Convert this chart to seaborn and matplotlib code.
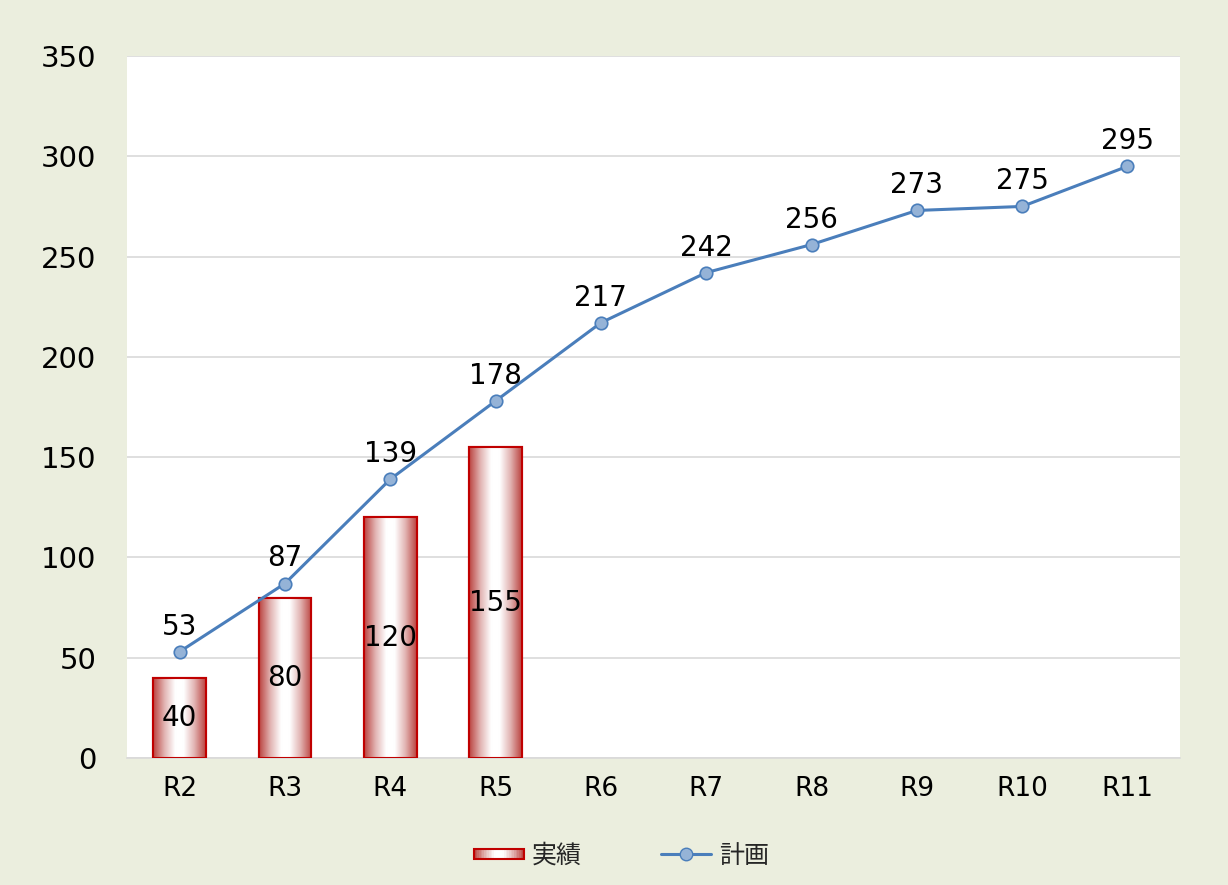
import numpy as np
import pandas as pd
import matplotlib
matplotlib.use("Agg")
import matplotlib.pyplot as plt
import seaborn as sns
from matplotlib.colors import LinearSegmentedColormap
from matplotlib.patches import Rectangle
from matplotlib.lines import Line2D
from matplotlib.legend_handler import HandlerBase

# データ
years = ["R2", "R3", "R4", "R5", "R6", "R7", "R8", "R9", "R10", "R11"]
actual = [40, 80, 120, 155, np.nan, np.nan, np.nan, np.nan, np.nan, np.nan]
plan = [53, 87, 139, 178, 217, 242, 256, 273, 275, 295]

bg = "#EBEEDE"
line_col = "#4A7EBB"
marker_col = "#95B3D7"
bar_edge = "#C00000"
grad = LinearSegmentedColormap.from_list(
    "g", [(0, "#BA4340"), (0.22, "#E2B5B4"), (0.42, "#FFFFFF"),
          (0.58, "#FFFFFF"), (0.78, "#E2B5B4"), (1, "#BA4340")])

sns.set_theme(style="white")
plt.rcParams['font.family'] = ['DejaVu Sans', 'Noto Sans CJK JP']

fig = plt.figure(figsize=(12.28, 8.85), dpi=100, facecolor=bg)
ax = fig.add_axes([0.1034, 0.1435, 0.8576, 0.7932])
ax.set_facecolor("white")

df = pd.DataFrame({"year": years, "actual": actual})
sns.barplot(data=df, x="year", y="actual", ax=ax, width=0.5,
            color="white", edgecolor=bar_edge, linewidth=1.5, zorder=2)

# 横方向グラデーション
g = np.linspace(0, 1, 256).reshape(1, -1)
for p, v in zip(ax.patches, actual):
    if np.isnan(v):
        continue
    x0, w, h = p.get_x(), p.get_width(), p.get_height()
    im = ax.imshow(g, cmap=grad, aspect="auto", extent=[x0, x0 + w, 0, h],
                   zorder=2.5, interpolation="bicubic")
    im.set_clip_path(p)
    ax.add_patch(Rectangle((x0, 0), w, h, fill=False, edgecolor=bar_edge,
                           linewidth=1.5, zorder=3))
    ax.text(x0 + w / 2, h / 2, f"{int(v)}", ha="center", va="center",
            fontsize=20, color="black", zorder=5)

xs = np.arange(len(years))
sns.lineplot(x=xs, y=plan, ax=ax, color=line_col, linewidth=2.2, marker="o",
             markersize=9, markerfacecolor=marker_col, markeredgecolor=line_col,
             markeredgewidth=1.2, zorder=4)
for x, v in zip(xs, plan):
    ax.text(x, v + 5.5, str(v), ha="center", va="bottom", fontsize=20,
            color="black", zorder=5)

ax.set_xlim(-0.5, len(years) - 0.5)
ax.set_ylim(0, 350)
ax.set_yticks(range(0, 351, 50))
ax.set_xticks(xs)
ax.set_xticklabels(years)
ax.tick_params(axis="both", length=0, colors="black")
ax.tick_params(axis="y", labelsize=21, pad=22)
ax.tick_params(axis="x", labelsize=19, pad=13)
ax.set_xlabel("")
ax.set_ylabel("")
ax.grid(axis="y", color="#D9D9D9", linewidth=1.2, zorder=0)
ax.set_axisbelow(True)
for s in ["top", "right", "left"]:
    ax.spines[s].set_visible(False)
ax.spines["bottom"].set_color("#D9D9D9")
ax.spines["bottom"].set_linewidth(1.2)


class GradHandler(HandlerBase):
    def create_artists(self, legend, orig, xd, yd, w, h, fs, trans):
        arts = []
        n = 30
        hh = h * 0.6
        y0 = yd + (h - hh) / 2
        for i in range(n):
            c = grad((i + 0.5) / n)
            arts.append(Rectangle((xd + w * i / n, y0), w / n + 0.3, hh,
                                  facecolor=c, edgecolor="none", transform=trans))
        arts.append(Rectangle((xd, y0), w, hh, fill=False, edgecolor=bar_edge,
                              linewidth=1.5, transform=trans))
        return arts


bar_handle = Rectangle((0, 0), 1, 1)
line_handle = Line2D([], [], color=line_col, linewidth=2.2, marker="o",
                     markersize=9, markerfacecolor=marker_col,
                     markeredgecolor=line_col)
fig.legend([bar_handle, line_handle], ["実績", "計画"],
           handler_map={Rectangle: GradHandler()},
           loc="center", bbox_to_anchor=(0.506, 0.033), ncol=2, frameon=False,
           fontsize=18, handlelength=2.0, handletextpad=0.3, columnspacing=3.2)

fig.savefig("out.png", dpi=100, facecolor=bg)
